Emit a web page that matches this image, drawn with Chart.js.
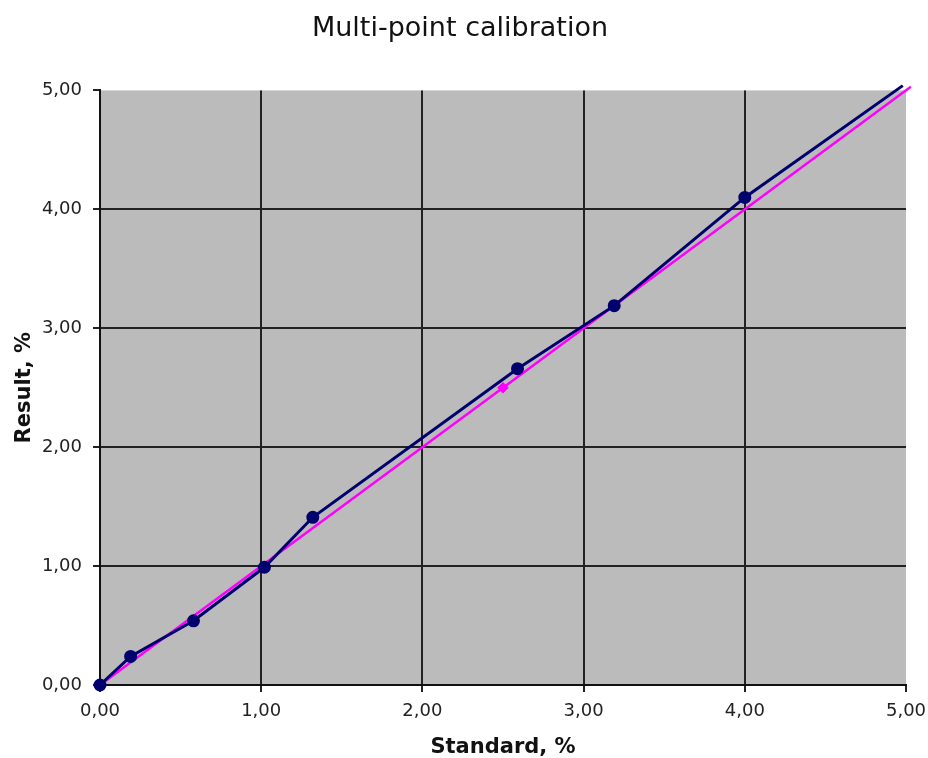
<!DOCTYPE html>
<html>
<head>
<meta charset="utf-8">
<script src="https://cdn.jsdelivr.net/npm/chart.js@4/dist/chart.umd.min.js"></script>
<style>
  html, body { margin: 0; padding: 0; background: #fff; }
  #wrap { width: 928px; height: 758px; }
</style>
</head>
<body>
<div id="wrap"><canvas id="calib_chart" width="928" height="758"></canvas></div>
<script>
// measured points (Standard %, Result %)
var measured_x = [0, 0.19, 0.58, 1.02, 1.32, 2.59, 3.19, 4.00, 4.98];
var measured_y = [0, 0.24, 0.54, 0.99, 1.41, 2.66, 3.19, 4.10, 5.04];
var measured_r = [5, 5, 5, 5, 5, 5, 5, 5, 0];

// ideal line y = x
var ideal_x = [0, 2.5, 5.03];
var ideal_y = [0, 2.5, 5.03];
var ideal_r = [0, 4, 0];

var tick_values = [0, 1, 2, 3, 4, 5];

function toPoints(xs, ys) {
    var pts = [];
    for (var i = 0; i < xs.length; ++i) pts.push({x: xs[i], y: ys[i]});
    return pts;
}

function fmt(v) {
    return v.toFixed(2).replace('.', ',');
}

// grey plot area
var plotBg = {
    id: 'plotBg',
    beforeDraw: function(chart) {
        var a = chart.chartArea;
        var c = chart.ctx;
        c.save();
        c.fillStyle = '#bbbbbb';
        c.fillRect(a.left, a.top, a.right - a.left, a.bottom - a.top);
        c.restore();
    }
};

function gridColor(c) {
    if (c.tick && c.tick.value === 5) return 'rgba(0,0,0,0)';
    return '#222222';
}

var FONT = "'DejaVu Sans', Verdana, sans-serif";

var ctx_c = document.getElementById('calib_chart').getContext('2d');
var chart = new Chart(ctx_c, {
    type: 'scatter',
    data: {
        datasets: [{
            label: 'Measured',
            data: toPoints(measured_x, measured_y),
            showLine: true,
            borderColor: '#00006e',
            backgroundColor: '#00006e',
            borderWidth: 3,
            pointRadius: measured_r,
            pointHoverRadius: measured_r,
            pointStyle: 'circle',
            clip: false
        },
        {
            label: 'Ideal',
            data: toPoints(ideal_x, ideal_y),
            showLine: true,
            borderColor: '#ff00ff',
            backgroundColor: '#ff00ff',
            borderWidth: 2.5,
            pointRadius: ideal_r,
            pointHoverRadius: ideal_r,
            pointStyle: 'rectRot',
            clip: false
        }]
    },
    options: {
        responsive: false,
        animation: false,
        layout: { padding: { left: 14, right: 22, top: 0, bottom: 0 } },
        plugins: {
            legend: { display: false },
            tooltip: { enabled: false },
            title: {
                display: true,
                text: 'Multi-point calibration',
                color: '#111',
                font: { family: FONT, size: 27, weight: 'normal', lineHeight: 1.2 },
                padding: { top: 13, bottom: 45 }
            }
        },
        scales: {
            x: {
                type: 'linear',
                min: 0,
                max: 5,
                afterFit: function(s) { s.height = 73; s.paddingLeft = 0; s.paddingRight = 0; },
                afterBuildTicks: function(s) { s.ticks = tick_values.map(function(v) { return {value: v}; }); },
                ticks: {
                    callback: function(v) { return fmt(v); },
                    color: '#222',
                    font: { family: FONT, size: 18 },
                    padding: 9,
                    maxRotation: 0
                },
                grid: { color: gridColor, tickColor: '#222222', lineWidth: 2, tickLength: 7 },
                border: { display: true, color: '#111', width: 2 },
                title: {
                    display: true,
                    text: 'Standard, %',
                    color: '#111',
                    font: { family: FONT, size: 21, weight: 'bold', lineHeight: 1 },
                    padding: { top: 0, bottom: 0 }
                }
            },
            y: {
                type: 'linear',
                min: 0,
                max: 5,
                afterFit: function(s) { s.width = 86; },
                afterBuildTicks: function(s) { s.ticks = tick_values.map(function(v) { return {value: v}; }); },
                ticks: {
                    callback: function(v) { return fmt(v); },
                    color: '#222',
                    font: { family: FONT, size: 18 },
                    padding: 11
                },
                grid: { color: gridColor, tickColor: '#222222', lineWidth: 2, tickLength: 7 },
                border: { display: true, color: '#111', width: 2 },
                title: {
                    display: true,
                    text: 'Result, %',
                    color: '#111',
                    font: { family: FONT, size: 21, weight: 'bold', lineHeight: 1 },
                    padding: { top: 0, bottom: 0 }
                }
            }
        }
    },
    plugins: [plotBg]
});
</script>
</body>
</html>
